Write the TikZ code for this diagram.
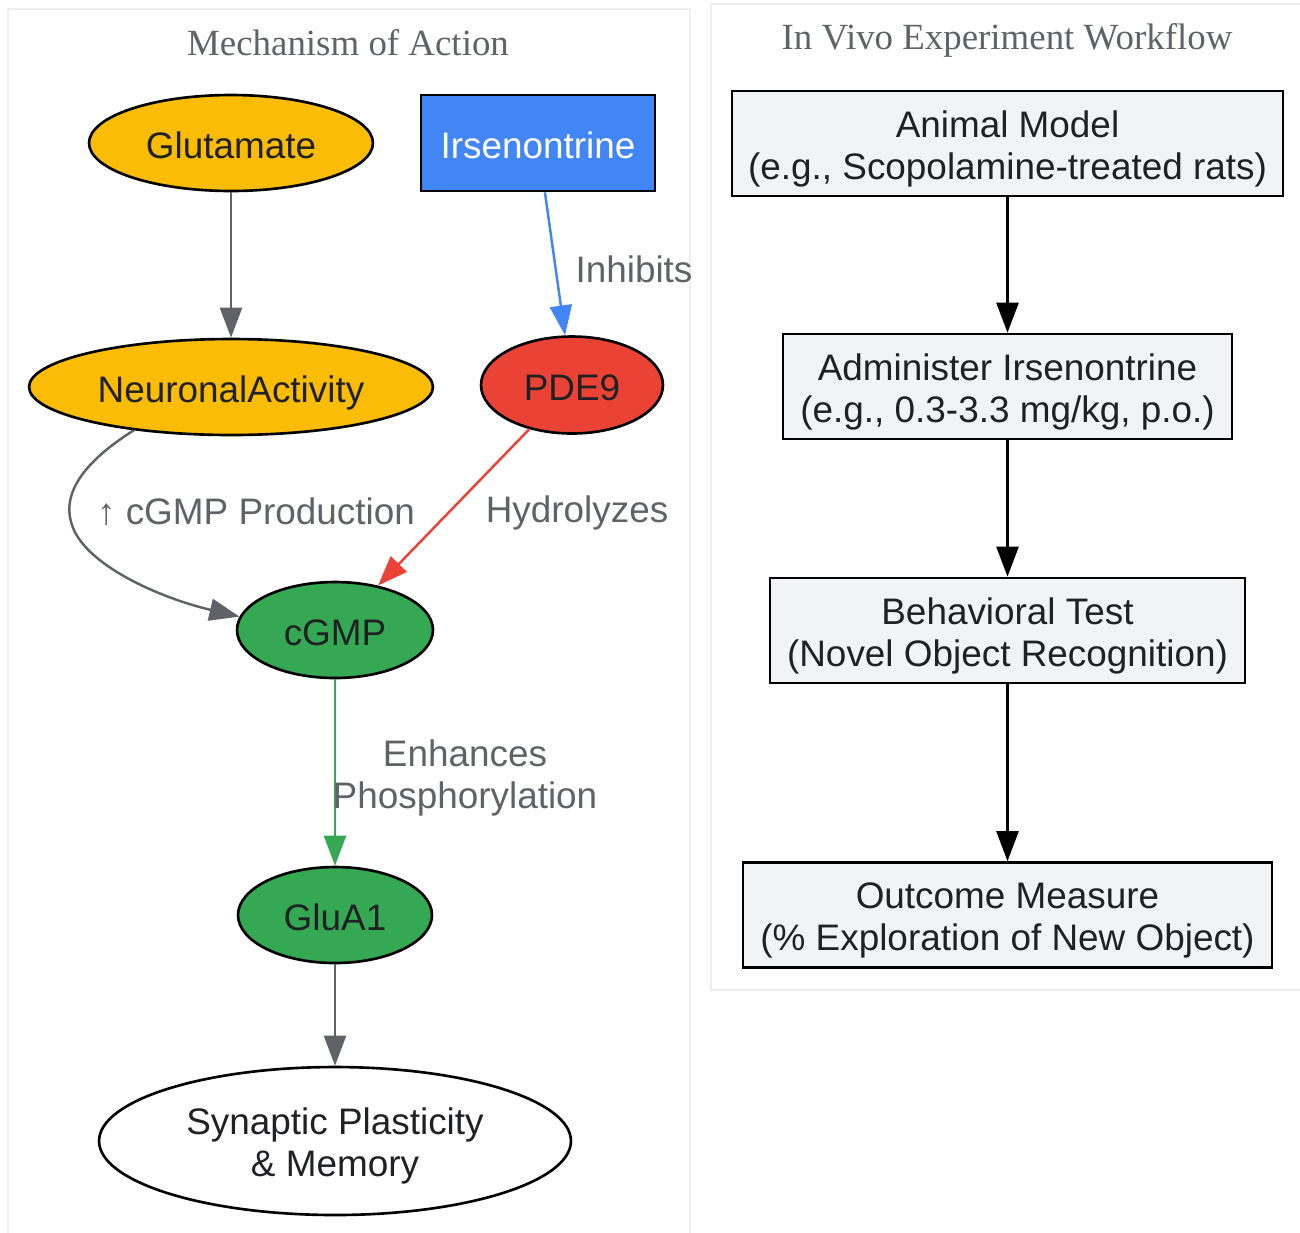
\documentclass[tikz,border=0pt]{standalone}
\usepackage{fontspec}
\setmainfont{Liberation Sans}
\newfontfamily\clusterfont{Liberation Serif}
\usetikzlibrary{shapes}
\usetikzlibrary{arrows.meta}
\definecolor{gyellow}{HTML}{FBBC05}
\definecolor{gblue}{HTML}{4285F4}
\definecolor{gred}{HTML}{EA4335}
\definecolor{ggreen}{HTML}{34A853}
\definecolor{ggray}{HTML}{5F6368}
\definecolor{gdark}{HTML}{202124}
\definecolor{glight}{HTML}{F1F3F4}
\definecolor{gframe}{HTML}{EEEEEE}
\newcommand{\stepstrut}{\rule{0pt}{0.74cm}}
\tikzset{
        molnode/.style={align=center,inner sep=0pt,draw=black,line width=1.5pt,text=gdark,
                font=\fontsize{21}{24}\selectfont},
        % One-line nodes
        oneline/.style={molnode, text height=0.62cm, text depth=0.02cm, minimum height=1.92cm},
        % Signalling nodes
        node_yellow/.style={oneline, ellipse, fill=gyellow},
        node_green/.style={oneline, ellipse, fill=ggreen},
        node_enzyme/.style={oneline, ellipse, fill=gred},
        % Drug node
        node_drug/.style={oneline, rectangle, fill=gblue, text=white},
        % Outcome node
        node_outcome/.style={molnode, ellipse, fill=white},
        % Workflow steps
        node_step/.style={molnode, rectangle, fill=glight, minimum height=2.1cm,
                font=\fontsize{21}{23.9}\selectfont},
        % Edges and labels
        edge_plain/.style={->, line width=1.4pt, draw=ggray},
        edge_label/.style={align=center, inner sep=0pt, text=ggray, font=\fontsize{21}{23.9}\selectfont},
        % Cluster frames
        cluster/.style={draw=gframe, line width=1.2pt},
        cluster_title/.style={inner sep=0pt, text=ggray, font=\clusterfont\fontsize{21}{24}\selectfont}
}

\begin{document}
\begin{tikzpicture}[
            x=0.02cm, y=-0.02cm,
            >={Triangle[length=0.6cm,width=0.44cm]}
        ]
            \useasboundingbox (0,0) rectangle (1300,1232);
            % clusters
            \draw[cluster] (8,9) rectangle (690,1245);
            \draw[cluster] (711,4) rectangle (1310,990);
            \node[cluster_title] (mechTitle) at (348,43) {Mechanism of Action};
            \node[cluster_title] (vivoTitle) at (1007,40) {In Vivo Experiment Workflow};

            % mechanism of action
            \node[node_yellow, minimum width=5.68cm] (glu) at (231,143) {Glutamate};
            \node[node_drug, minimum width=4.68cm] (irs) at (538,143) {Irsenontrine};
            \node[node_yellow, minimum width=8.08cm] (neuro) at (231,387) {NeuronalActivity};
            \node[node_enzyme, minimum width=3.64cm, minimum height=1.94cm] (pde) at (572,385) {PDE9};
            \node[node_green, minimum width=3.92cm] (cgmp) at (335,630) {cGMP};
            \node[node_green, minimum width=3.88cm] (glua) at (335,915) {GluA1};
            \node[node_outcome, minimum width=9.44cm, minimum height=2.96cm] (syn) at (335,1141)
                {\stepstrut Synaptic Plasticity\\\& Memory};

            \draw[edge_plain] (glu) -- (neuro);
            \draw[edge_plain, draw=gblue] (irs) -- (pde);
            \draw[edge_plain] (neuro.204.6) .. controls (90,458) and (60,490) .. (72,525)
                .. controls (85,565) and (160,598) .. (cgmp.172);
            \draw[edge_plain, draw=gred] (pde) -- (cgmp);
            \draw[edge_plain, draw=ggreen] (cgmp) -- (glua);
            \draw[edge_plain] (glua) -- (syn);

            \node[edge_label] (inhLbl) at (634,269) {Inhibits};
            \node[edge_label] (prodLbl) at (256,512) {↑ cGMP Production};
            \node[edge_label] (hydLbl) at (577,513) {Hydrolyzes};
            \node[edge_label] (phosLbl) at (465,778) {Enhances\\Phosphorylation};

            % in vivo workflow
            \node[node_step, minimum width=11.02cm] (animal) at (1007.5,143.5)
                {\stepstrut Animal Model\\(e.g., Scopolamine-treated rats)};
            \node[node_step, minimum width=8.98cm] (admin) at (1007.5,386.5)
                {\stepstrut Administer Irsenontrine\\(e.g., 0.3-3.3 mg/kg, p.o.)};
            \node[node_step, minimum width=9.5cm] (behav) at (1007.5,630.5)
                {\stepstrut Behavioral Test\\(Novel Object Recognition)};
            \node[node_step, minimum width=10.58cm] (measure) at (1007.5,915)
                {\stepstrut Outcome Measure\\(\% Exploration of New Object)};

            \draw[edge_plain, draw=black] (animal) -- (admin);
            \draw[edge_plain, draw=black] (admin) -- (behav);
            \draw[edge_plain, draw=black] (behav) -- (measure);
        \end{tikzpicture}
\end{document}
